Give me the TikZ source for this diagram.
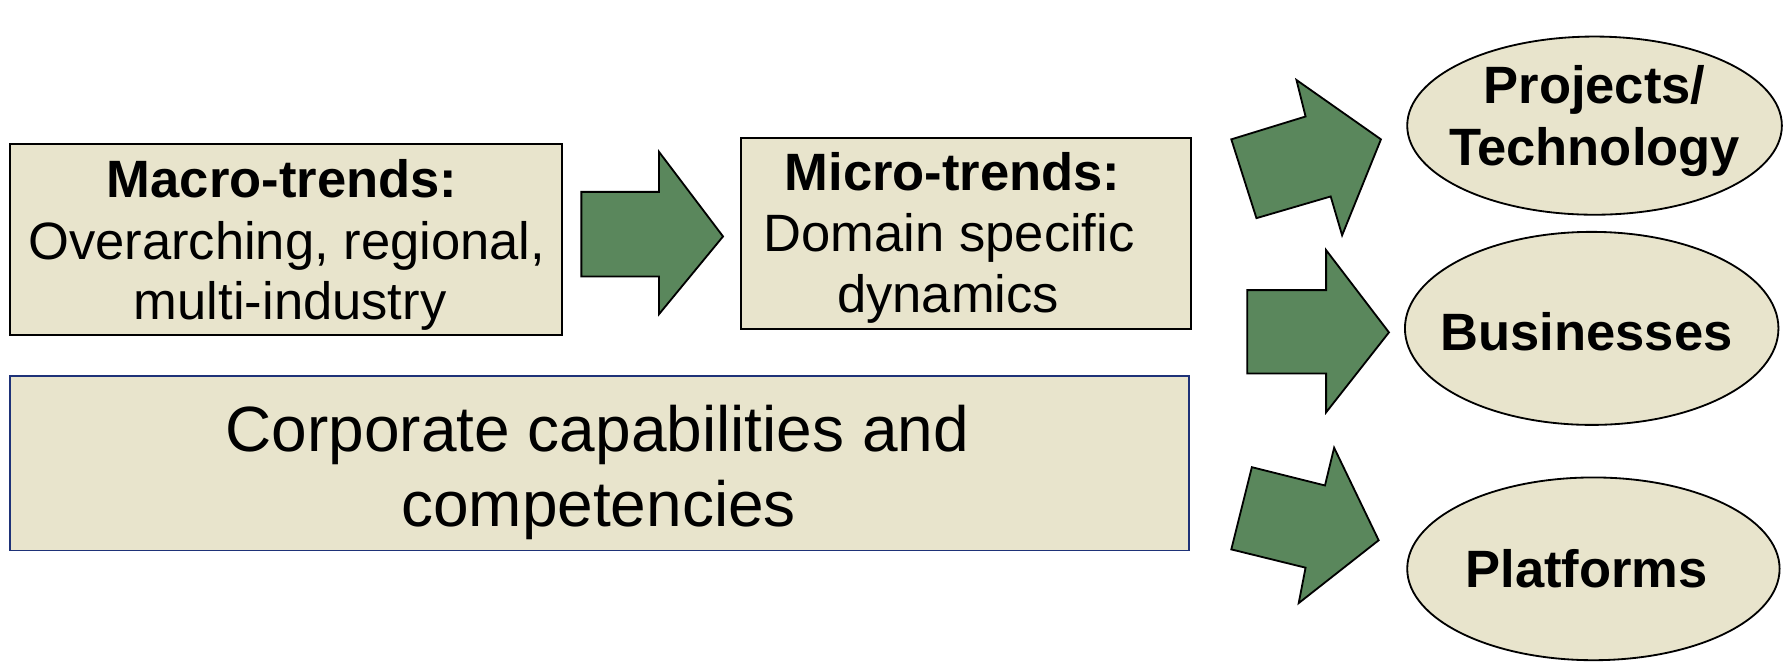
\documentclass[tikz,border=0pt]{standalone}
\usepackage{fontspec}
\usetikzlibrary{shapes.geometric}
\setmainfont{Liberation Sans}
\definecolor{boxfill}{RGB}{232,228,204}
\definecolor{arrowgreen}{RGB}{90,135,92}
\definecolor{capblue}{RGB}{30,50,120}
\begin{document}
\begin{tikzpicture}[x=1pt,y=-1pt,
  box/.style={draw=black, line width=1.6pt, fill=boxfill, inner sep=0pt},
  oval/.style={draw=black, line width=1.6pt, fill=boxfill, ellipse, inner sep=0pt},
  label/.style={align=center, inner sep=0pt},
  boxline/.style={anchor=base, inner sep=0pt, font=\fontsize{46}{52}\selectfont},
  corpline/.style={anchor=base, inner sep=0pt, font=\fontsize{56}{67}\selectfont},
  blockarrow/.style={draw=black, line width=1.6pt, fill=arrowgreen, line join=miter}]
\useasboundingbox (0,0) rectangle (1568,585);

% trend boxes
\node[box, minimum width=483pt, minimum height=167pt] (macro) at (250.5,209.5) {};
\node[boxline] (macroA) at (247,173) {\textbf{Macro-trends:}};
\node[boxline] (macroB) at (251,227) {Overarching, regional,};
\node[boxline] (macroC) at (254,280) {multi-industry};

\node[box, minimum width=394pt, minimum height=167pt] (micro) at (846,204.5) {};
\node[boxline] (microA) at (834,167) {\textbf{Micro-trends:}};
\node[boxline] (microB) at (831,220) {Domain specific};
\node[boxline] (microC) at (830,274) {dynamics};

\node[box, draw=capblue, minimum width=1032pt, minimum height=153pt] (corp) at (525,405.5) {};
\node[corpline] (corpA) at (523,395) {Corporate capabilities and};
\node[corpline] (corpB) at (524,461) {competencies};

% outcome ovals
\node[oval, minimum width=328pt, minimum height=156pt] (projoval) at (1396,110) {};
\node[label, font=\fontsize{46}{55}\selectfont\bfseries] (proj) at (1396,106) {Projects/\\Technology};
\node[oval, minimum width=327pt, minimum height=169pt] (busoval) at (1393.5,287.5) {};
\node[label, font=\fontsize{46}{55}\selectfont\bfseries] (bus) at (1389,290) {Businesses};
\node[oval, minimum width=326pt, minimum height=160pt] (platoval) at (1395,498) {};
\node[label, font=\fontsize{46}{55}\selectfont\bfseries] (plat) at (1389,498) {Platforms};

% block arrows
\draw[blockarrow] (509,168) -- (577,168) -- (577,133) -- (633,207)
  -- (577,275) -- (577,242) -- (509,242) -- cycle;
\draw[blockarrow] (1092,254) -- (1161,254) -- (1161,219) -- (1216,291)
  -- (1161,361) -- (1161,327) -- (1092,327) -- cycle;
\draw[blockarrow] (1078,122) -- (1143,102) -- (1135,70) -- (1209,122)
  -- (1175,206) -- (1165,172) -- (1100,191) -- cycle;
\draw[blockarrow] (1096,409) -- (1160,425) -- (1168,392) -- (1207,473)
  -- (1137,528) -- (1143,497) -- (1078,481) -- cycle;
\end{tikzpicture}
\end{document}
